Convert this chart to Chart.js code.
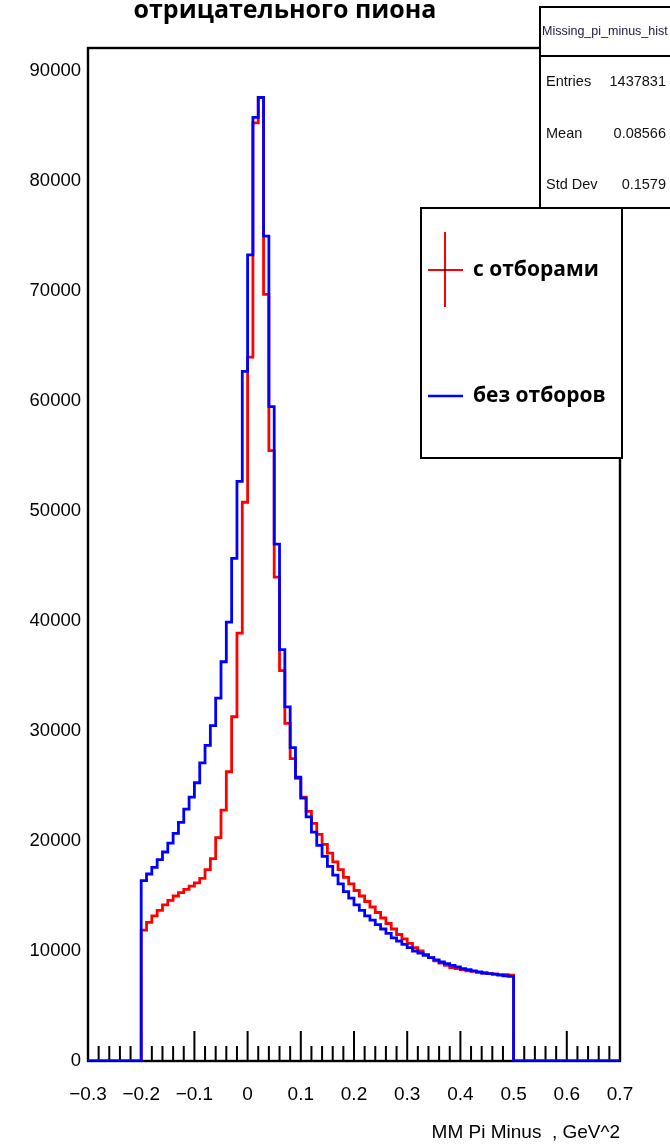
<!DOCTYPE html>
<html>
<head>
<meta charset="utf-8">
<script src="https://cdn.jsdelivr.net/npm/chart.js@4.4.1/dist/chart.umd.min.js"></script>
<style>
    html, body { margin: 0; padding: 0; background: #fff; }
</style>
</head>
<body>
<canvas id="histChart" width="670" height="1147"></canvas>
<script>
/* Histogram binning (GeV^2) */
const xMin = -0.3;
const xMax = 0.7;
const binStart = -0.2;
const binWidth = 0.01;

/* Bin contents, bins from -0.2 to 0.5 */
const withCuts = [
    11900, 12600, 13200, 13700, 14200, 14600, 15000, 15300, 15600, 15900,
    16200, 16600, 17400, 18400, 20300, 22800, 26300, 31300, 38900, 50800,
    64000, 85300, 87600, 69700, 55500, 44000, 35500, 30700, 27500, 25700,
    24000, 22700, 21600, 20600, 19700, 18900, 18100, 17400, 16700, 16100,
    15500, 15000, 14500, 14000, 13500, 13000, 12500, 12000, 11500, 11100,
    10700, 10300, 10000, 9700, 9400, 9100, 8900, 8700, 8500, 8400,
    8300, 8200, 8150, 8050, 8000, 7950, 7900, 7850, 7850, 7800
];
const withoutCuts = [
    16400, 17000, 17600, 18300, 19000, 19800, 20700, 21700, 22900, 24000,
    25300, 27100, 28700, 30500, 33000, 36300, 39900, 45700, 52700, 62700,
    73300, 85800, 87600, 75000, 59500, 47000, 37400, 32200, 28500, 25800,
    23900, 22200, 20800, 19600, 18600, 17700, 16900, 16100, 15400, 14800,
    14200, 13700, 13200, 12800, 12400, 12000, 11600, 11200, 10900, 10600,
    10300, 10000, 9800, 9600, 9400, 9200, 9000, 8850, 8700, 8550,
    8400, 8300, 8200, 8100, 8000, 7950, 7900, 7800, 7750, 7700
];

const xTickValues = [-0.3, -0.2, -0.1, 0, 0.1, 0.2, 0.3, 0.4, 0.5, 0.6, 0.7];
const xTickLabels = ["\u22120.3", "\u22120.2", "\u22120.1", "0", "0.1", "0.2", "0.3", "0.4", "0.5", "0.6", "0.7"];
const yTickValues = [0, 10000, 20000, 30000, 40000, 50000, 60000, 70000, 80000, 90000];

const titleText = "отрицательного пиона";
const xAxisTitle = "MM Pi Minus  , GeV^2";
const statsName = "Missing_pi_minus_hist";
const statsRows = [["Entries", "1437831"], ["Mean", "0.08566"], ["Std Dev", "0.1579"]];

/* step points: empty range, bins, empty range */
function histPoints(values) {
    const pts = [{ x: xMin, y: 0 }];
    values.forEach((v, i) => pts.push({ x: binStart + i * binWidth, y: v }));
    pts.push({ x: binStart + values.length * binWidth, y: 0 });
    pts.push({ x: xMax, y: 0 });
    return pts;
}

const labelFont = "'Liberation Sans', Arial, sans-serif";

/* frame + inside x ticks, ROOT style */
const rootFrame = {
    id: "rootFrame",
    beforeDatasetsDraw(chart) {
        const { ctx, chartArea: a, scales: { x } } = chart;
        ctx.save();
        ctx.strokeStyle = "#000";
        ctx.lineWidth = 2;
        ctx.beginPath();
        for (let k = 0; k <= 50; k++) {
            const px = x.getPixelForValue(xMin + k * 0.02);
            const len = k % 5 === 0 ? 30 : 15;
            ctx.moveTo(px, a.bottom);
            ctx.lineTo(px, a.bottom - len);
        }
        ctx.stroke();
        ctx.lineWidth = 2.4;
        ctx.strokeRect(a.left, a.top, a.right - a.left, a.bottom - a.top);
        ctx.restore();
    },
    afterDraw(chart) {
        const { ctx } = chart;
        ctx.save();

        // title
        ctx.fillStyle = "#000";
        ctx.font = "bold 25px 'Open Sans', sans-serif";
        ctx.textAlign = "center";
        ctx.textBaseline = "alphabetic";
        ctx.fillText(titleText, 285, 18);

        // stats box
        ctx.fillStyle = "#fff";
        ctx.fillRect(540, 7, 140, 201);
        ctx.strokeStyle = "#000";
        ctx.lineWidth = 2;
        ctx.strokeRect(540, 7, 140, 201);
        ctx.beginPath();
        ctx.moveTo(540, 56);
        ctx.lineTo(670, 56);
        ctx.stroke();
        ctx.fillStyle = "#1a1a3a";
        ctx.font = "12.5px " + labelFont;
        ctx.textAlign = "left";
        ctx.textBaseline = "middle";
        ctx.fillText(statsName, 542, 32);
        ctx.fillStyle = "#111";
        ctx.font = "14.5px " + labelFont;
        statsRows.forEach((r, i) => {
            const ty = 82 + i * 51.5;
            ctx.textAlign = "left";
            ctx.fillText(r[0], 546, ty);
            ctx.textAlign = "right";
            ctx.fillText(r[1], 666, ty);
        });

        // legend
        const lx = 421, ly = 208, lw = 201, lh = 250;
        ctx.fillStyle = "#fff";
        ctx.fillRect(lx, ly, lw, lh);
        ctx.strokeStyle = "#000";
        ctx.lineWidth = 2;
        ctx.strokeRect(lx, ly, lw, lh);

        const red = chart.data.datasets[1];
        const blue = chart.data.datasets[0];
        ctx.strokeStyle = red.borderColor;
        ctx.lineWidth = 2;
        ctx.beginPath();
        ctx.moveTo(428, 270); ctx.lineTo(463, 270);
        ctx.moveTo(445, 232); ctx.lineTo(445, 307);
        ctx.stroke();
        ctx.fillStyle = "#000";
        ctx.fillRect(444, 269, 2, 2);

        ctx.strokeStyle = blue.borderColor;
        ctx.lineWidth = 2.5;
        ctx.beginPath();
        ctx.moveTo(428, 396); ctx.lineTo(463, 396);
        ctx.stroke();

        ctx.fillStyle = "#000";
        ctx.font = "bold 21px 'Open Sans', sans-serif";
        ctx.textAlign = "left";
        ctx.textBaseline = "middle";
        ctx.fillText(red.label, 473, 270);
        ctx.fillText(blue.label, 473, 396);
        ctx.restore();
    }
};

new Chart(document.getElementById("histChart"), {
    type: "line",
    data: {
        datasets: [{
            label: "без отборов",
            data: histPoints(withoutCuts),
            borderColor: "#0000ff",
            borderWidth: 2.8,
            stepped: "before",
            pointRadius: 0,
            fill: false,
            order: 1
        }, {
            label: "с отборами",
            data: histPoints(withCuts),
            borderColor: "#ff0000",
            borderWidth: 2.8,
            stepped: "before",
            pointRadius: 0,
            fill: false,
            order: 2
        }]
    },
    options: {
        responsive: false,
        animation: false,
        devicePixelRatio: 1,
        layout: { padding: { top: 48, right: 50, left: 0, bottom: 0 } },
        plugins: {
            legend: { display: false },
            tooltip: { enabled: false }
        },
        scales: {
            x: {
                type: "linear",
                min: xMin,
                max: xMax,
                grid: { display: false, drawTicks: false },
                border: { display: false },
                afterBuildTicks: s => { s.ticks = xTickValues.map(v => ({ value: v })); },
                ticks: {
                    autoSkip: false,
                    maxRotation: 0,
                    padding: 22,
                    color: "#000",
                    font: { family: labelFont, size: 19 },
                    callback: (v, i) => xTickLabels[i]
                },
                title: {
                    display: true,
                    text: xAxisTitle,
                    align: "end",
                    color: "#000",
                    font: { family: labelFont, size: 19 },
                    padding: { top: 0, bottom: 3 }
                },
                afterFit: s => { s.height = 86; }
            },
            y: {
                type: "linear",
                min: 0,
                max: 92100,
                grid: { display: false, drawTicks: false },
                border: { display: false },
                afterBuildTicks: s => { s.ticks = yTickValues.map(v => ({ value: v })); },
                ticks: {
                    autoSkip: false,
                    padding: 7,
                    color: "#000",
                    font: { family: labelFont, size: 18.5 },
                    callback: v => String(v)
                },
                afterFit: s => { s.width = 88; }
            }
        }
    },
    plugins: [rootFrame]
});
</script>
</body>
</html>
